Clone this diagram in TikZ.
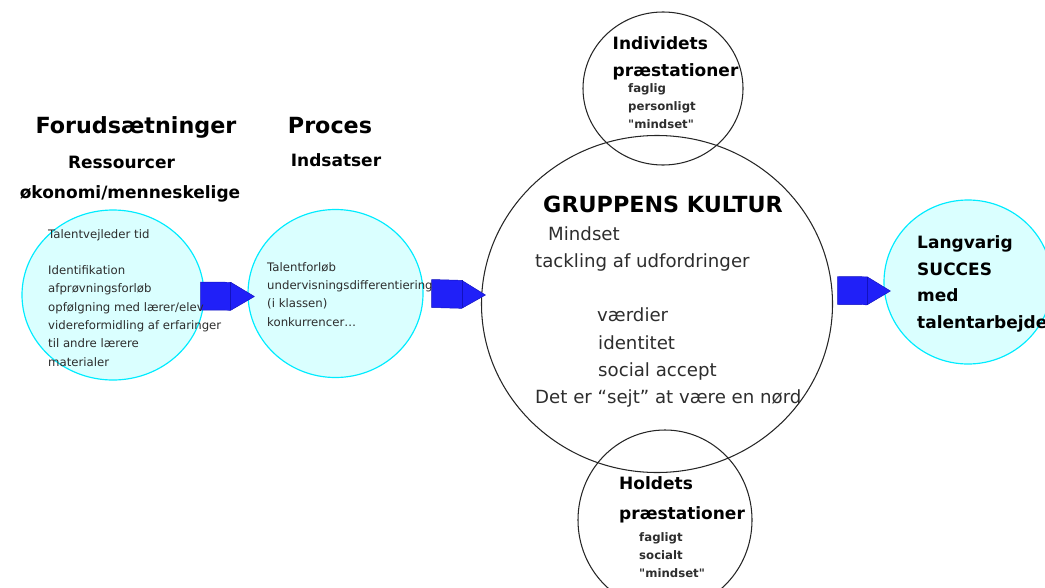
\documentclass[tikz,border=0pt]{standalone}
\usepackage{fontspec}
\setmainfont{DejaVu Sans}
\usetikzlibrary{shapes.geometric,calc}

\definecolor{lysecyan}{RGB}{218,255,255}
\definecolor{cyankant}{RGB}{0,236,255}
\definecolor{pilblaa}{RGB}{32,32,248}
\definecolor{pilkant}{RGB}{18,18,190}
\definecolor{tekstgraa}{RGB}{45,45,45}

\tikzset{
  feltlys/.style={ellipse, draw=cyankant, line width=1pt, fill=lysecyan, inner sep=0pt},
  feltsort/.style={ellipse, draw=black!85, line width=0.9pt, inner sep=0pt},
  overskrift/.style={font=\fontsize{19}{23}\selectfont\bfseries, inner sep=0pt, anchor=base},
  underoverskrift/.style={font=\fontsize{14.5}{18}\selectfont\bfseries, inner sep=0pt, anchor=base},
  smaatekst/.style={font=\fontsize{10}{15.6}\selectfont, text=tekstgraa, align=left, anchor=base west, inner sep=0pt},
  fedtekst/.style={font=\fontsize{14.5}{22.5}\selectfont\bfseries, align=left, anchor=base west, inner sep=0pt},
  smaafed/.style={font=\fontsize{10}{15.2}\selectfont\bfseries, text=tekstgraa, align=left, anchor=base west, inner sep=0pt},
  kulturtekst/.style={font=\fontsize{15.5}{23}\selectfont, text=tekstgraa, anchor=base west, inner sep=0pt}
}

% blaa blokpil fra #1 til #2
\newcommand{\blokpil}[2]{%
  \filldraw[fill=pilblaa, draw=pilkant, line width=0.4pt, line join=round]
    ($(#1)+(0,-14)$) -- ($(#1)!0.56!(#2)+(0,-14)$) -- (#2)
    -- ($(#1)!0.56!(#2)+(0,14)$) -- ($(#1)+(0,14)$) -- cycle;
  \draw[pilkant, line width=0.4pt] ($(#1)!0.56!(#2)+(0,-14)$) -- ($(#1)!0.56!(#2)+(0,14)$);
}

\begin{document}
\begin{tikzpicture}
  [x=0.03cm, y=-0.03cm]
  \useasboundingbox (0,0) rectangle (1045,587);

  % cirkler
  \node[feltlys, minimum width=5.46cm, minimum height=5.1cm] (ress) at (113,295) {};
  \node[feltlys, minimum width=5.25cm, minimum height=5.04cm] (proc) at (335.5,293.5) {};
  \node[feltsort, minimum width=10.53cm, minimum height=10.11cm] (kultur) at (657,304) {};
  \node[feltsort, minimum width=4.8cm, minimum height=4.59cm] (indiv) at (663,88.5) {};
  \node[feltsort, minimum width=5.22cm, minimum height=5.4cm] (hold) at (665,520) {};
  \node[feltlys, minimum width=5.04cm, minimum height=4.92cm] (succes) at (968,282) {};

  % pile
  \coordinate (p1a) at ($(ress.east)+(-4,1)$);
  \coordinate (p1b) at ($(proc.west)+(7,3)$);
  \coordinate (p2a) at ($(proc.east)+(8,0)$);
  \coordinate (p2b) at ($(kultur.west)+(4.5,-9)$);
  \coordinate (p3a) at ($(kultur.east)+(4.5,-13.5)$);
  \coordinate (p3b) at ($(succes.west)+(7,9)$);
  \blokpil{p1a}{p1b}
  \blokpil{p2a}{p2b}
  \blokpil{p3a}{p3b}

  % overskrifter
  \node[overskrift] (forud) at (136,133) {Forudsætninger};
  \node[underoverskrift] (ressh) at (121.5,168) {Ressourcer};
  \node[underoverskrift] (okon) at (130,198) {økonomi/menneskelige};
  \node[overskrift] (proch) at (330,133) {Proces};
  \node[underoverskrift] (indsats) at (336,166.7) {Indsatser};

  % tekst i cirklerne (base = sidste linje)
  \node[smaatekst] (resstekst) at (48,366) {Talentvejleder tid\\[15.6pt]
    Identifikation\\ afprøvningsforløb\\ opfølgning med lærer/elev\\
    videreformidling af erfaringer\\ til andre lærere\\ materialer};
  \node[smaatekst] (proctekst) at (267,326) {Talentforløb\\ undervisningsdifferentiering\\
    (i klassen)\\ konkurrencer\ldots};

  \node[overskrift] (kulturh) at (663,212) {GRUPPENS KULTUR};
  \node[kulturtekst] (mindset) at (548,240) {Mindset};
  \node[kulturtekst] (tackling) at (535,267) {tackling af udfordringer};
  \node[kulturtekst] (vaerdier) at (597,321.7) {værdier};
  \node[kulturtekst] (identitet) at (598,349) {identitet};
  \node[kulturtekst] (accept) at (598,376.7) {social accept};
  \node[kulturtekst] (sejt) at (535,403) {Det er “sejt” at være en nørd};

  \node[fedtekst] (indivh) at (612.5,76) {Individets\\ præstationer};
  \node[smaafed] (indivtekst) at (628,128) {faglig\\ personligt\\ \textquotedbl mindset\textquotedbl};

  \node[fedtekst, font=\fontsize{14.5}{24.8}\selectfont\bfseries] (holdh) at (619,519) {Holdets\\ præstationer};
  \node[smaafed] (holdtekst) at (639,577) {fagligt\\ socialt\\ \textquotedbl mindset\textquotedbl};

  \node[fedtekst] (successtekst) at (917,328) {Langvarig\\ SUCCES\\ med\\ talentarbejde};
\end{tikzpicture}
\end{document}
